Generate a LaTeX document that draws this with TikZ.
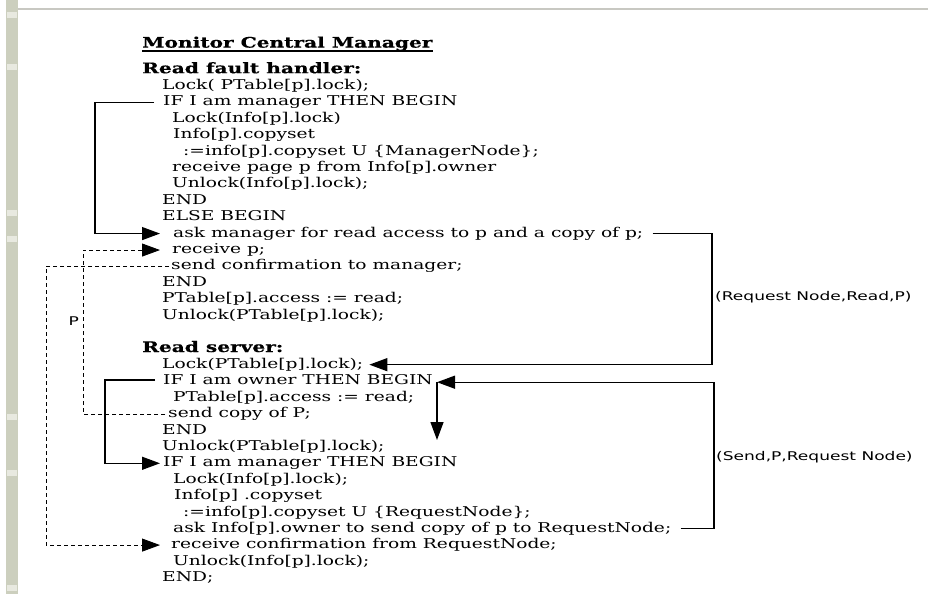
\documentclass[tikz,border=0pt]{standalone}
\usepackage{fontspec}
\usetikzlibrary{arrows.meta}
\setmainfont{DejaVu Serif}
\newfontfamily\codefam[FakeStretch=1.38]{DejaVu Serif}
\newfontfamily\headfam[FakeStretch=1.39,FakeBold=0.6]{DejaVu Serif Bold}
\newfontfamily\labfam[FakeStretch=1.42]{DejaVu Sans}
\definecolor{stripgrey}{RGB}{204,207,190}
\definecolor{stripnote}{RGB}{232,233,224}
\definecolor{rulegrey}{RGB}{200,200,194}
\begin{document}
\begin{tikzpicture}[x=1pt,y=-1pt,
  code/.style={anchor=mid west, inner sep=0pt, font=\codefam\fontsize{13.5}{15}\selectfont},
  head/.style={anchor=mid west, inner sep=0pt, font=\headfam\fontsize{14.5}{16}\selectfont},
  lab/.style={anchor=mid west, inner sep=0pt, font=\labfam\fontsize{12}{14}\selectfont},
  tip/.style={-{Triangle[length=18pt,width=13pt]}},
  solidflow/.style={tip, line width=1.3pt},
  dashflow/.style={tip, line width=0.9pt, dash pattern=on 4pt off 3pt},
]
\useasboundingbox (0,0) rectangle (928,594);
\fill[white] (0,0) rectangle (928,594);

% page edge: textured strip on the left, faint rule along the top
\fill[stripgrey] (6,0) rectangle (18,594);
\foreach \yy in {12,64,210,236,414,470,585}
  \fill[stripnote] (7,\yy) rectangle (17,\yy+6);
\fill[rulegrey] (18,8.5) rectangle (928,10.5);

% title and section headings
\node[head] (title) at (142,45) {Monitor Central Manager};
\draw[line width=1.4pt] ([yshift=-3.5pt]title.base west) -- ([yshift=-3.5pt]title.base east);
\node[head] (hrf) at (142,70.6) {Read fault handler:};
\node[head] (hrs) at (142,349.4) {Read server:};

% read fault handler
\node[code] (lkA)   at (162, 87.0) {Lock( PTable[p].lock);};
\node[code] (ifmA)  at (163,103.4) {IF I am manager THEN BEGIN};
\node[code] (lkiA)  at (172,119.8) {Lock(Info[p].lock)};
\node[code] (csA)   at (173,136.2) {Info[p].copyset};
\node[code] (ucsA)  at (183,152.6) {:=info[p].copyset U \{ManagerNode\};};
\node[code] (rpA)   at (172,169.0) {receive page p from Info[p].owner};
\node[code] (uliA)  at (172,185.4) {Unlock(Info[p].lock);};
\node[code] (endA)  at (162,201.8) {END};
\node[code] (elsA)  at (162,218.2) {ELSE BEGIN};
\node[code] (ask)   at (173,234.6) {ask manager for read access to p and a copy of p;};
\node[code] (recvp) at (172,251.0) {receive p;};
\node[code] (sconf) at (171,267.4) {send confirmation to manager;};
\node[code] (endB)  at (162,283.8) {END};
\node[code] (accA)  at (162,300.2) {PTable[p].access := read;};
\node[code] (ulpA)  at (162,316.6) {Unlock(PTable[p].lock);};

% read server
\node[code] (lkB)    at (162,365.8) {Lock(PTable[p].lock);};
\node[code] (ifo)    at (163,382.2) {IF I am owner THEN BEGIN};
\node[code] (accB)   at (173,398.6) {PTable[p].access := read;};
\node[code] (scopy)  at (168,415.0) {send copy of P;};
\node[code] (endC)   at (162,431.4) {END};
\node[code] (ulpB)   at (162,447.8) {Unlock(PTable[p].lock);};
\node[code] (ifmB)   at (163,464.2) {IF I am manager THEN BEGIN};
\node[code] (lkiB)   at (173,480.6) {Lock(Info[p].lock);};
\node[code] (csB)    at (174,497.0) {Info[p] .copyset};
\node[code] (ucsB)   at (183,513.4) {:=info[p].copyset U \{RequestNode\};};
\node[code] (askown) at (173,529.8) {ask Info[p].owner to send copy of p to RequestNode;};
\node[code] (rconf)  at (171,546.2) {receive confirmation from RequestNode;};
\node[code] (uliB)   at (173,562.6) {Unlock(Info[p].lock);};
\node[code] (endD)   at (162,579.0) {END;};

% message labels
\node[lab] (reqlab)  at (715,298) {(Request Node,Read,P)};
\node[lab] (sendlab) at (716,458) {(Send,P,Request Node)};
\node[lab, anchor=mid east] (plab) at (79,323) {P};

% fixed columns for the message paths
\coordinate (reqcol)  at (712,0);
\coordinate (sendcol) at (714,0);
\coordinate (turn)    at (437,382.2);
\coordinate (drop)    at (437,440);

% local control flow
\draw[solidflow] ([xshift=-9pt]ifmA.west) -- ++(-59,0) |- ([xshift=-13pt]ask.west);
\draw[solidflow] ([xshift=-8pt]ifo.west) -- ++(-50,0) |- ([xshift=-3pt]ifmB.west);

% page and confirmation messages
\draw[dashflow] ([xshift=-3pt]scopy.west) -- ++(-82,0) |- ([xshift=-12pt]recvp.west);
\draw[dashflow] ([xshift=-2pt]sconf.west) -- ++(-123,0) |- ([xshift=-11pt]rconf.west);

% request to the manager and forwarding to the owner
\draw[solidflow] ([xshift=9pt]ask.east) -- (reqcol |- ask.east) |- ([xshift=6pt]lkB.east);
\draw[solidflow] ([xshift=9pt]askown.east) -- (sendcol |- askown.east) |- (turn);
\draw[solidflow] (turn) -- (drop);
\end{tikzpicture}
\end{document}
